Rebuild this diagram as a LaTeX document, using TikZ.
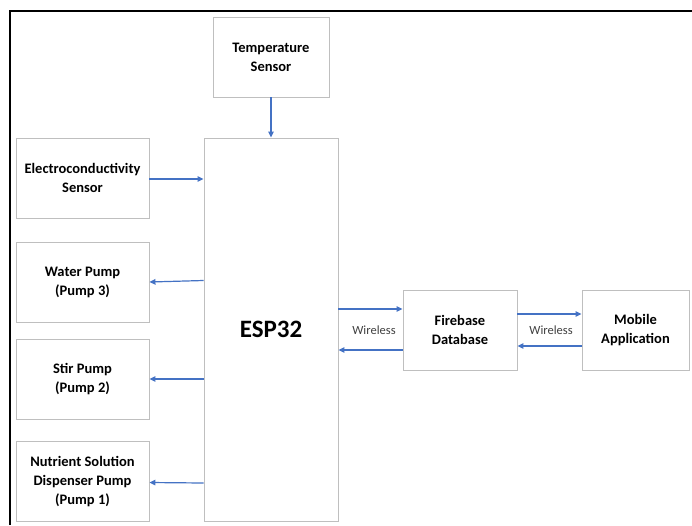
\documentclass[tikz,border=0pt]{standalone}
\usepackage{fontspec}
\setmainfont{Carlito}
\usetikzlibrary{arrows.meta}
\definecolor{boxgray}{HTML}{BFBFBF}
\definecolor{arrowblue}{HTML}{4472C4}
\definecolor{lblgray}{HTML}{404040}
\begin{document}
\begin{tikzpicture}[x=1pt,y=-1pt,
  blockbox/.style={draw=boxgray,line width=0.9pt,inner sep=0pt,align=center,
    font=\fontsize{14.5}{19}\selectfont\bfseries,text=black},
  conn/.style={draw=arrowblue,line width=1.2pt,-{Triangle[length=6pt,width=5.5pt]}},
  wl/.style={font=\fontsize{12.5}{15}\selectfont,text=lblgray}]
\useasboundingbox (0,0) rectangle (692,525);
\fill[white] (0,0) rectangle (692,525);
\draw[black,line width=2pt] (9.5,525) -- (9.5,10.5) -- (692,10.5);

\node[blockbox,minimum width=116pt,minimum height=80pt] (temp) at (271,57) {Temperature\\Sensor};
\node[blockbox,minimum width=134pt,minimum height=383pt] (esp) at (271,329.5) {};
\node[font=\fontsize{25}{30}\selectfont\bfseries] (esplbl) at (271,329) {ESP32};
\node[blockbox,minimum width=133pt,minimum height=80pt] (ec) at (82.5,178) {Electroconductivity\\Sensor};
\node[blockbox,minimum width=133pt,minimum height=80pt] (water) at (82.5,282) {Water Pump\\(Pump 3)};
\node[blockbox,minimum width=133pt,minimum height=80pt] (stir) at (82.5,379) {Stir Pump\\(Pump 2)};
\node[blockbox,minimum width=133pt,minimum height=80pt] (nut) at (82.5,481.5) {\raisebox{-2pt}{\begin{tabular}{@{}c@{}}Nutrient Solution\\Dispenser Pump\\(Pump 1)\end{tabular}}};
\node[blockbox,minimum width=114pt,minimum height=80pt] (fb) at (460,330) {Firebase\\Database};
\node[blockbox,minimum width=107pt,minimum height=80pt] (mob) at (635.5,330) {Mobile\\Application};

\draw[conn] (temp.south) -- (esp.north);
\draw[conn] (ec.east |- 0,179) -- (esp.west |- 0,179);
\draw[conn] (esp.west |- 0,280.5) -- (water.east |- 0,282);
\draw[conn] (esp.west |- 0,379) -- (stir.east |- 0,379);
\draw[conn] (esp.west |- 0,483) -- (nut.east |- 0,482.5);
\draw[conn] (esp.east |- 0,309) -- (fb.west |- 0,309);
\draw[conn] (fb.west |- 0,350) -- (esp.east |- 0,350);
\draw[conn] (fb.east |- 0,314) -- (mob.west |- 0,314);
\draw[conn] (mob.west |- 0,346) -- (fb.east |- 0,346);

\node[wl] (wl1) at (374,330) {Wireless};
\node[wl] (wl2) at (551,330) {Wireless};
\end{tikzpicture}
\end{document}
